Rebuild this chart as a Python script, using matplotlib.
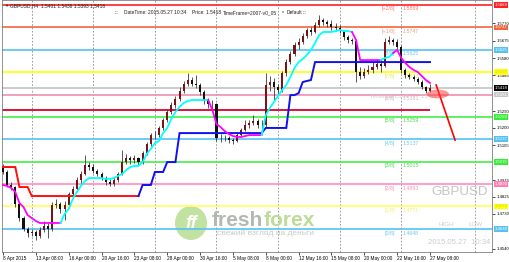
import matplotlib
matplotlib.use('Agg')
import matplotlib.pyplot as plt
import matplotlib.transforms as mtransforms
from matplotlib.patches import Ellipse
import numpy as np

plt.rcParams['font.family'] = ['Liberation Sans', 'DejaVu Sans']

# GBPUSD H4, one candle drawn per two H4 bars
first_open = 1.4985
closes = [1.4959, 1.4888, 1.4877, 1.4784, 1.4708, 1.4648, 1.4626, 1.4632, 1.4610, 1.4643,
          1.4665, 1.4648, 1.4779, 1.4784, 1.4757, 1.4779, 1.4839, 1.4866, 1.4915, 1.4948,
          1.4997, 1.4986, 1.4964, 1.4948, 1.4926, 1.4904, 1.4893, 1.4915, 1.4948, 1.5013,
          1.5035, 1.5024, 1.5035, 1.5013, 1.5062, 1.5111, 1.5160, 1.5160, 1.5199, 1.5242,
          1.5286, 1.5324, 1.5357, 1.5400, 1.5438, 1.5460, 1.5438, 1.5433, 1.5395, 1.5346,
          1.5329, 1.5329, 1.5144, 1.5144, 1.5144, 1.5133, 1.5128, 1.5160, 1.5188, 1.5215,
          1.5226, 1.5237, 1.5215, 1.5215, 1.5433, 1.5449, 1.5422, 1.5406, 1.5498, 1.5558,
          1.5602, 1.5651, 1.5667, 1.5700, 1.5733, 1.5722, 1.5760, 1.5787, 1.5776, 1.5765,
          1.5749, 1.5744, 1.5727, 1.5695, 1.5678, 1.5673, 1.5504, 1.5482, 1.5504, 1.5515,
          1.5531, 1.5547, 1.5537, 1.5667, 1.5678, 1.5667, 1.5640, 1.5515, 1.5487, 1.5477,
          1.5466, 1.5449, 1.5422, 1.5400, 1.5418]
highs = [1.5000, 1.4968, 1.4905, 1.4885, 1.4795, 1.4720, 1.4660, 1.4650, 1.4645, 1.4660,
         1.4690, 1.4680, 1.4795, 1.4810, 1.4795, 1.4800, 1.4850, 1.4880, 1.4930, 1.4965,
         1.5051, 1.5015, 1.5000, 1.4975, 1.4960, 1.4935, 1.4920, 1.4930, 1.4960, 1.5079,
         1.5055, 1.5045, 1.5050, 1.5040, 1.5075, 1.5125, 1.5170, 1.5185, 1.5210, 1.5255,
         1.5300, 1.5340, 1.5375, 1.5420, 1.5455, 1.5498, 1.5475, 1.5490, 1.5445, 1.5405,
         1.5360, 1.5350, 1.5335, 1.5165, 1.5160, 1.5155, 1.5145, 1.5175, 1.5200, 1.5245,
         1.5240, 1.5270, 1.5250, 1.5240, 1.5498, 1.5480, 1.5470, 1.5440, 1.5510, 1.5575,
         1.5620, 1.5665, 1.5690, 1.5715, 1.5745, 1.5750, 1.5775, 1.5815, 1.5800, 1.5790,
         1.5785, 1.5770, 1.5760, 1.5735, 1.5705, 1.5690, 1.5680, 1.5530, 1.5525, 1.5540,
         1.5560, 1.5575, 1.5570, 1.5690, 1.5700, 1.5690, 1.5685, 1.5650, 1.5525, 1.5500,
         1.5490, 1.5475, 1.5460, 1.5430, 1.5436]
lows = [1.4950, 1.4875, 1.4860, 1.4770, 1.4690, 1.4635, 1.4605, 1.4612, 1.4590, 1.4600,
        1.4630, 1.4600, 1.4640, 1.4765, 1.4735, 1.4700, 1.4770, 1.4830, 1.4855, 1.4900,
        1.4940, 1.4970, 1.4955, 1.4935, 1.4915, 1.4890, 1.4880, 1.4885, 1.4905, 1.4940,
        1.5000, 1.5005, 1.5010, 1.4995, 1.5005, 1.5050, 1.5100, 1.5140, 1.5150, 1.5190,
        1.5230, 1.5275, 1.5310, 1.5345, 1.5390, 1.5425, 1.5425, 1.5415, 1.5380, 1.5330,
        1.5310, 1.5300, 1.5130, 1.5125, 1.5130, 1.5115, 1.5110, 1.5120, 1.5150, 1.5180,
        1.5200, 1.5215, 1.5200, 1.5195, 1.5205, 1.5400, 1.5351, 1.5380, 1.5395, 1.5480,
        1.5545, 1.5590, 1.5630, 1.5655, 1.5690, 1.5705, 1.5715, 1.5750, 1.5760, 1.5750,
        1.5735, 1.5730, 1.5715, 1.5680, 1.5660, 1.5655, 1.5449, 1.5465, 1.5470, 1.5495,
        1.5500, 1.5520, 1.5505, 1.5530, 1.5655, 1.5650, 1.5630, 1.5500, 1.5470, 1.5465,
        1.5455, 1.5440, 1.5410, 1.5390, 1.5393]

# trailing line (magenta above price, cyan below)
trail = [1.4888, 1.4883, 1.4872, 1.4850, 1.4790, 1.4768, 1.4724, 1.4708, 1.4692, 1.4681,
         1.4681, 1.4681, 1.4681, 1.4681, 1.4681, 1.4730, 1.4757, 1.4812, 1.4850, 1.4883,
         1.4910, 1.4926, 1.4926, 1.4926, 1.4926, 1.4921, 1.4921, 1.4926, 1.4937, 1.4948,
         1.4970, 1.4986, 1.4992, 1.4992, 1.5013, 1.5057, 1.5084, 1.5117, 1.5128, 1.5171,
         1.5199, 1.5248, 1.5286, 1.5313, 1.5335, 1.5346, 1.5351, 1.5351, 1.5351, 1.5351,
         1.5351, 1.5297, 1.5220, 1.5204, 1.5182, 1.5166, 1.5155, 1.5150, 1.5150, 1.5155,
         1.5160, 1.5160, 1.5160, 1.5160, 1.5269, 1.5308, 1.5340, 1.5373, 1.5406, 1.5433,
         1.5477, 1.5526, 1.5558, 1.5575, 1.5596, 1.5624, 1.5662, 1.5705, 1.5722, 1.5722,
         1.5722, 1.5727, 1.5733, 1.5727, 1.5727, 1.5722, 1.5678, 1.5569, 1.5569, 1.5569,
         1.5569, 1.5569, 1.5569, 1.5580, 1.5586, 1.5607, 1.5624, 1.5580, 1.5553, 1.5531,
         1.5515, 1.5504, 1.5482, 1.5460, 1.5444]
trail_modes = [(0, '#ff00ff'), (15, '#00ffff'), (51, '#ff00ff'), (64, '#00ffff'),
               (86, '#ff00ff'), (93, '#00ffff'), (96, '#ff00ff')]

# step line (red / blue)
stop = [1.4986, 1.4986, 1.4986, 1.4986, 1.4877, 1.4877, 1.4877, 1.4828, 1.4828, 1.4828,
        1.4828, 1.4828, 1.4828, 1.4828, 1.4828, 1.4828, 1.4828, 1.4828, 1.4828, 1.4828,
        1.4828, 1.4828, 1.4828, 1.4828, 1.4828, 1.4828, 1.4828, 1.4828, 1.4828, 1.4828,
        1.4828, 1.4828, 1.4828, 1.4828, 1.4888, 1.4888, 1.4888, 1.4959, 1.4959, 1.4959,
        1.5013, 1.5013, 1.5013, 1.5171, 1.5171, 1.5171, 1.5171, 1.5171, 1.5171, 1.5171,
        1.5171, 1.5171, 1.5171, 1.5171, 1.5171, 1.5171, 1.5171, 1.5171, 1.5171, 1.5171,
        1.5171, 1.5171, 1.5171, 1.5171, 1.5199, 1.5199, 1.5199, 1.5199, 1.5199, 1.5199,
        1.5378, 1.5378, 1.5389, 1.5449, 1.5455, 1.5460, 1.5558, 1.5558, 1.5558, 1.5558,
        1.5558, 1.5558, 1.5558, 1.5558, 1.5558, 1.5558, 1.5558, 1.5558, 1.5558, 1.5558,
        1.5558, 1.5558, 1.5558, 1.5558, 1.5558, 1.5558, 1.5558, 1.5558, 1.5558, 1.5558,
        1.5558, 1.5558, 1.5558, 1.5558, 1.5558]
stop_modes = [(0, '#ff1010'), (34, '#1010f0')]

# murrey math levels
level_names = ['[+2/8]', '[+1/8]', '[8/8]', '[7/8]', '[6/8]', '[5/8]',
               '[4/8]', '[3/8]', '[2/8]', '[1/8]', '[0/8]']
level_vals = [1.5869, 1.5747, 1.5625, 1.5503, 1.5381, 1.5259,
              1.5137, 1.5015, 1.4893, 1.4771, 1.4648]
level_colors = ['#ff2020', '#f2663a', '#55c2f2', '#ffff00', '#ee8fb4', '#44f044',
                '#55c2f2', '#44f044', '#ff8cc0', '#ffff60', '#55c2f2']
level_txt = ['#ff7070', '#f59a70', '#6cc8f0', '#e8e860', '#d8b0c0', '#50d850',
             '#6cc8f0', '#50d850', '#ff90c0', '#f0f070', '#6cc8f0']
box_colors = ['#ff2020', '#f2663a', '#55c2f2', '#ffff00', '#c8c8c8', '#33ee33',
              '#55c2f2', '#33ee33', '#ff80b0', '#ffff00', '#55c2f2']
box_txt = ['white', 'white', 'white', '#d0d060', 'white', 'white',
           'white', 'white', 'white', '#d0d060', 'white']

last_price = 1.5418
daily_line = 1.5297
yesterday_close = 1.5404

price_ticks = [1.5770, 1.5675, 1.5580, 1.5485, 1.5290, 1.5200, 1.5105,
               1.4915, 1.4825, 1.4730, 1.4540]
date_labels = ['8 Apr 2015', '13 Apr 08:00', '16 Apr 00:00', '20 Apr 16:00', '23 Apr 08:00',
               '28 Apr 00:00', '30 Apr 16:00', '5 May 08:00', '8 May 00:00', '12 May 16:00',
               '15 May 08:00', '20 May 00:00', '22 May 16:00', '27 May 08:00']
week_sep = [7, 22, 37, 52, 67, 82, 97, 115]

fig = plt.figure(figsize=(5.10, 2.62), dpi=100)
fig.patch.set_facecolor('white')
ax = fig.add_axes([2/510, 10/262, 490/510, 252/262])
ax.set_xlim(-0.24, 119.1)
ax.set_ylim(1.45229, 1.58963)

n = len(closes)
x = np.arange(n)
opens = [first_open] + closes[:-1]

for w in week_sep:
    ax.axvline(w, color='#8c8c8c', lw=0.6, ls=(0, (2, 2)), zorder=0.5)

blend = mtransforms.blended_transform_factory(ax.transAxes, ax.transData)
for name, val, col, tc, bc, btc in zip(level_names, level_vals, level_colors,
                                       level_txt, box_colors, box_txt):
    ax.axhline(val, color=col, lw=1.2, zorder=1)
    ax.text(0.802, val - 0.0008, name, transform=blend, color=tc, fontsize=3.8,
            ha='right', va='top', zorder=1.1)
    ax.text(0.818, val - 0.0008, f'{val:.4f}', transform=blend, color=tc, fontsize=3.8,
            ha='left', va='top', zorder=1.1)
    ax.text(1.005, val, f'{val:.4f}', transform=blend, color=btc, fontsize=3.1,
            ha='left', va='center', clip_on=False,
            bbox=dict(boxstyle='square,pad=0.2', fc=bc, ec='none'))

ax.axhline(last_price, color='#c4c4c4', lw=1.2, zorder=1)
ax.text(1.005, last_price, f'{last_price:.4f}', transform=blend, color='white', fontsize=3.1,
        ha='left', va='center', clip_on=False,
        bbox=dict(boxstyle='square,pad=0.2', fc='black', ec='none'))
ax.hlines(daily_line, -0.24, n - 1, color='#dc1438', lw=1.4, zorder=1.2)

ax.text(89.4, 1.5368, 'Yesterday Close', color='#cccccc', fontsize=3.8,
        ha='left', va='center', zorder=1.05)
ax.text(101.8, 1.5368, f'{yesterday_close:.4f}', color='#cccccc', fontsize=3.8,
        ha='left', va='center', zorder=1.05)

# candles
o = np.array(opens)
c = np.array(closes)
up = c >= o
bottoms = np.minimum(o, c)
heights = np.maximum(np.abs(c - o), 0.00015)
ax.vlines(x, lows, highs, color='#3a3a3a', lw=0.6, zorder=3)
ax.bar(x, heights, bottom=bottoms, width=0.5,
       color=np.where(up, '#7a1414', '#101010'), lw=0, zorder=3)


def colored_line(vals, modes, lw):
    for j, (s, col) in enumerate(modes):
        e = modes[j + 1][0] if j + 1 < len(modes) else len(vals)
        i0 = max(s - 1, 0)
        ax.plot(x[i0:e], vals[i0:e], color=col, lw=lw, zorder=4, solid_joinstyle='miter')


colored_line(stop, stop_modes, 1.4)
colored_line(trail, trail_modes, 1.3)

# forecast mark
ax.plot([105.5, 110.1], [1.5433, 1.5133], color='#ff0000', lw=1.2, zorder=5)
ax.add_patch(Ellipse((105.9, 1.5384), 5.4, 0.0048, fc='#ff4040', ec='none', alpha=0.55, zorder=5))

# axes styling
for sp in ax.spines.values():
    sp.set_color('#808080')
    sp.set_linewidth(0.6)
ax.yaxis.tick_right()
ax.set_yticks(price_ticks)
ax.set_yticklabels([f'{v:.4f}' for v in price_ticks])
ax.set_xticks(range(0, 8 * len(date_labels), 8))
ax.set_xticklabels(date_labels, ha='left')
ax.tick_params(axis='y', labelsize=3.1, length=2, width=0.5, pad=1.2)
ax.tick_params(axis='x', labelsize=3.4, length=2, width=0.5, pad=1.2)

# watermark
ft = fig.transFigure
ax.add_patch(Ellipse((191/510, 1 - 223/262), 32/510, 34/262, transform=ft,
                     fc='#c2e2a2', ec='none', zorder=0.6, clip_on=False))
ax.text(191/510, 1 - 223/262, 'ff', transform=ft, color='white', fontsize=13,
        fontweight='bold', style='italic', ha='center', va='center', zorder=0.7)
t1 = ax.text(212/510, 1 - 220/262, 'fresh', transform=ft, color='#b2b8b2', fontsize=15,
             fontweight='bold', ha='left', va='center', zorder=0.7)
fig.canvas.draw()
bb = t1.get_window_extent()
ax.text(bb.x1 / fig.bbox.width, 1 - 220/262, 'forex', transform=ft, color='#bcdc98',
        fontsize=15, fontweight='bold', ha='left', va='center', zorder=0.7)
ax.text(217/510, 1 - 233/262, 'свежий взгляд на деньги', transform=ft, color='#c6cac6',
        fontsize=6, ha='left', va='center', zorder=0.7)

ax.text(460/510, 1 - 192/262, 'GBPUSD', transform=ft, color='#c4c4c4', fontsize=9.6,
        ha='center', va='center', zorder=0.7)
ax.text(446/510, 1 - 224/262, 'HIGH', transform=ft, color='#cccccc', fontsize=4.5,
        ha='center', va='center', zorder=0.7)
ax.text(476/510, 1 - 224/262, 'LOW', transform=ft, color='#cccccc', fontsize=4.5,
        ha='center', va='center', zorder=0.7)
ax.text(428/510, 1 - 243/262, '2015.05.27  10:34', transform=ft, color='#cccccc',
        fontsize=5.6, ha='left', va='center', zorder=0.7)

# header texts
fig.text(4/510, 1 - 6/262, '\u25bc', fontsize=3, color='#303030', va='center')
fig.text(10/510, 1 - 6/262, 'GBPUSD,H4  1.5401 1.5436 1.5393 1.5418', fontsize=3.5,
         color='#202020', va='center')
header = [(115, ':::'), (124, 'DateTime: 2015.05.27 10:34'), (192, 'Price: 1.5418'),
          (223, 'TimeFrame=2007-v0_05'), (282, '*'), (287, 'Default'), (303, ':::')]
for px, s in header:
    fig.text(px/510, 1 - 13/262, s, fontsize=3.5, color='#202020', va='center')

fig.savefig('out.png', dpi=100, facecolor='white')
